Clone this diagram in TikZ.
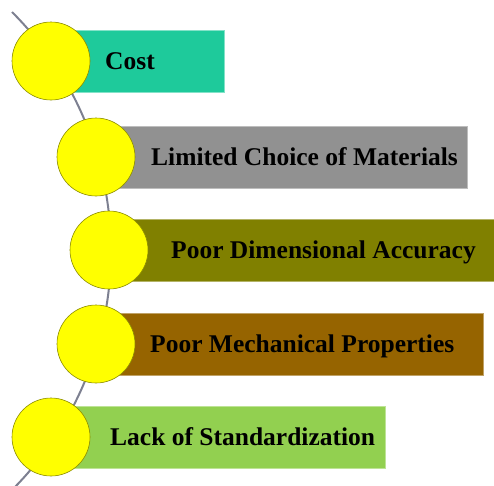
\documentclass[tikz,border=0pt]{standalone}
\usepackage{fontspec}
\setmainfont{Liberation Serif}
\usepackage{xcolor}
\usetikzlibrary{positioning}

\definecolor{costc}{RGB}{30,202,155}
\definecolor{matc}{RGB}{145,145,145}
\definecolor{dimc}{RGB}{128,128,0}
\definecolor{mechc}{RGB}{150,100,0}
\definecolor{stdc}{RGB}{146,208,80}
\definecolor{dotc}{RGB}{255,255,0}
\definecolor{spinec}{RGB}{125,128,145}

\begin{document}
\begin{tikzpicture}[x=1pt, y=-1pt,
  spine/.style={draw=spinec, line width=2pt},
  bar/.style={rectangle, inner sep=0pt, outer sep=0pt, minimum height=62pt, line width=1pt},
  dot/.style={circle, fill=dotc, draw=dotc!55!black, line width=0.6pt, minimum size=78pt, inner sep=0pt},
  lbl/.style={inner sep=0pt, font=\fontsize{25.5}{30}\selectfont\bfseries, text height=17pt, text depth=0pt}]

\useasboundingbox (0,0) rectangle (494,485);
\clip (0,0) rectangle (494,485);

\draw[spine] (12,12) arc[start angle=-45, end angle=46, radius=338];

\coordinate (p1) at (51,61);
\coordinate (p2) at (96,157);
\coordinate (p3) at (109,250);
\coordinate (p4) at (96,344);
\coordinate (p5) at (51,437);

\node[bar, fill=costc, draw=costc!55!white, minimum width=173pt, right=0pt of p1] (b1) {};
\node[bar, fill=matc, draw=matc!60!white, minimum width=371pt, right=0pt of p2] (b2) {};
\node[bar, fill=dimc, draw=dimc!60!white, minimum width=400pt, right=0pt of p3] (b3) {};
\node[bar, fill=mechc, draw=mechc!60!white, minimum width=387pt, right=0pt of p4] (b4) {};
\node[bar, fill=stdc, draw=stdc!60!white, minimum width=334pt, right=0pt of p5] (b5) {};

\node[dot] (c1) at (p1) {};
\node[dot] (c2) at (p2) {};
\node[dot] (c3) at (p3) {};
\node[dot] (c4) at (p4) {};
\node[dot] (c5) at (p5) {};

\node[lbl, right=54pt of c1.center] (t1) {Cost};
\node[lbl, right=55pt of c2.center] (t2) {Limited Choice of Materials};
\node[lbl, right=62pt of c3.center] (t3) {Poor Dimensional Accuracy};
\node[lbl, right=54pt of c4.center] (t4) {Poor Mechanical Properties};
\node[lbl, right=59pt of c5.center] (t5) {Lack of Standardization};

\end{tikzpicture}
\end{document}
